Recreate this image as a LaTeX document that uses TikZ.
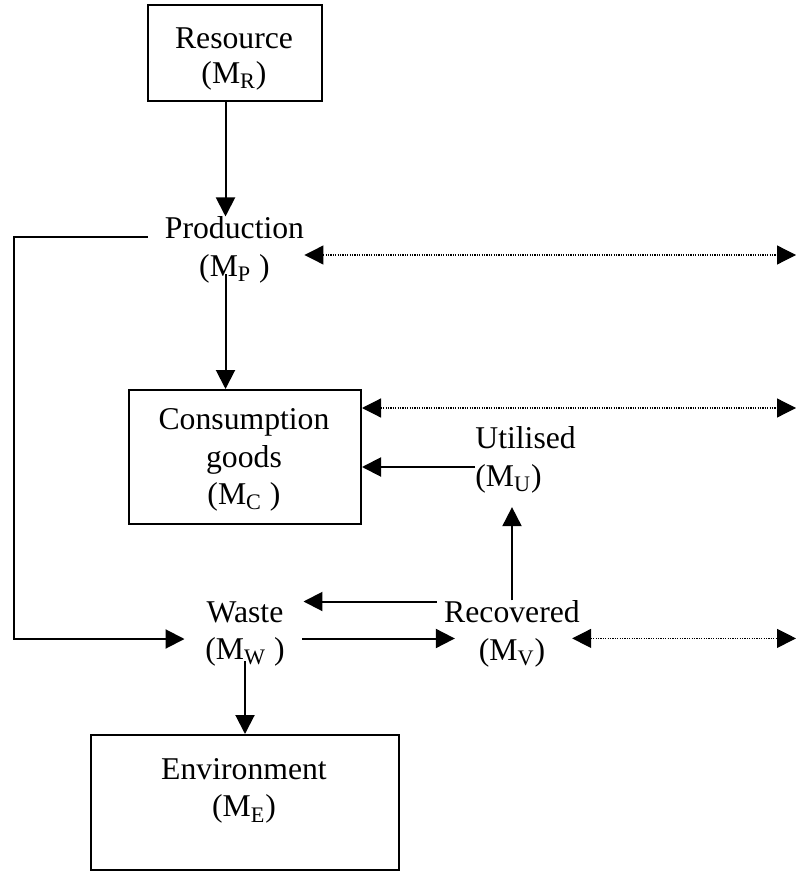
\documentclass[tikz,border=0pt]{standalone}
\usepackage{fontspec}
\setmainfont{Liberation Serif}
\usetikzlibrary{arrows.meta}

\tikzset{
	box/.style = {draw, line width = 1pt, align = center, inner sep = 0pt},
	lbl/.style = {align = center, inner sep = 0pt},
	flow/.style = {line width = 1pt, -{Triangle[length = 9.5pt, width = 9.5pt]}},
	link/.style = {line width = 0.6pt, dash pattern = on 0.6pt off 0.6pt,
		{Triangle[length = 9.5pt, width = 9.5pt]}-{Triangle[length = 9.5pt, width = 9.5pt]}}
}

\begin{document}
\begin{tikzpicture}[x = 0.5pt, y = -0.5pt, font = \fontsize{15.85pt}{18.75pt}\selectfont]
	\useasboundingbox (0,0) rectangle (796,871);

	\node [box, minimum width = 87pt, minimum height = 48pt] (res) at (235,53) {};
	\node [lbl] (reslbl) at (234,59) {Resource\\[-1pt](M\textsubscript{R})};
	\node [lbl] (prod) at (234.5,250) {Production\\(M\textsubscript{P} )};
	\node [box, minimum width = 116pt, minimum height = 67pt] (cons) at (245,457) {};
	\node [lbl] (conslbl) at (244,460) {Consumption\\goods\\(M\textsubscript{C} )};
	\node [lbl, align = left, anchor = west] (util) at (475,460) {Utilised\\(M\textsubscript{U})};
	\node [lbl] (waste) at (245,634) {Waste\\(M\textsubscript{W} )};
	\node [lbl] (rec) at (512,634) {Recovered\\(M\textsubscript{V})};
	\node [box, minimum width = 154pt, minimum height = 67.5pt] (env) at (245,802.5) {};
	\node [lbl] (envlbl) at (244,791) {Environment\\(M\textsubscript{E})};

	\coordinate (spine) at (225.5,0);
	\coordinate (edge) at (796,0);

	\draw [flow] (res.south -| spine) -- (prod.north -| spine);
	\draw [flow] ([yshift = 4.7pt]prod.south -| spine) -- (cons.north -| spine);
	\draw [flow] ([xshift = -8.5pt, yshift = 6.5pt]prod.west) -- ++(-134,0) |- ([xshift = -10.25pt, yshift = -2.5pt]waste.west);
	\draw [flow] ([yshift = -3.5pt]util.west) -- ([yshift = -3.5pt]util.west -| cons.east);
	\draw [flow, shorten > = 6.8pt] (rec.north) -- (util.south -| rec.north);
	\draw [flow] ([xshift = -3.5pt, yshift = 16.25pt]rec.west) -- ([xshift = 9.25pt, yshift = 16.25pt]waste.east);
	\draw [flow] ([xshift = 8.75pt, yshift = -2.25pt]waste.east) -- ([xshift = 5.5pt, yshift = -2.25pt]rec.west);
	\draw [flow] ([yshift = 2.85pt]waste.south) -- (env.north);

	\draw [link] ([yshift = -2.5pt]prod.east) -- ([yshift = -2.5pt]prod.east -| edge);
	\draw [link] ([yshift = -9.5pt]cons.north east) -- ([yshift = -9.5pt]cons.north east -| edge);
	\draw [link] ([xshift = -4pt, yshift = -2.2pt]rec.east) -- ([yshift = -2.2pt]rec.east -| edge);
\end{tikzpicture}
\end{document}
